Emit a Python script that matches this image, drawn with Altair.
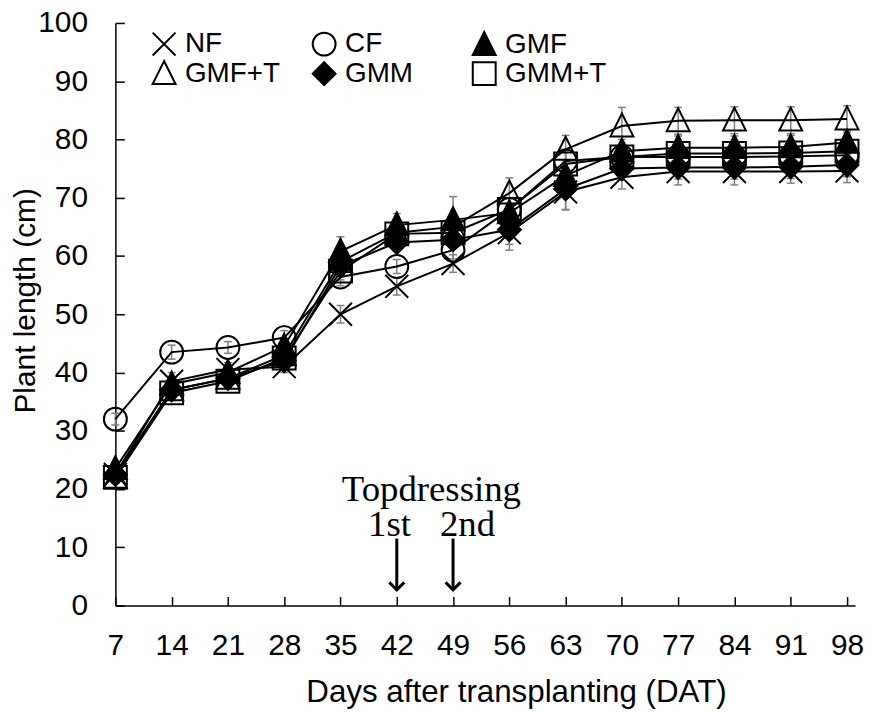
import altair as alt
import pandas as pd

# ---------------- data ----------------
days = [7, 14, 21, 28, 35, 42, 49, 56, 63, 70, 77, 84, 91, 98]
series_names = ["NF", "CF", "GMF", "GMF+T", "GMM", "GMM+T"]

nf    = [22.5, 38.5, 40.5, 41.0, 50.0, 54.8, 58.7, 64.0, 71.0, 73.5, 74.5, 74.5, 74.5, 74.6]
cf    = [32.0, 43.5, 44.3, 46.0, 56.4, 58.2, 61.0, 68.0, 76.3, 77.0, 77.0, 77.0, 77.1, 77.3]
gmf   = [23.5, 38.0, 40.0, 44.5, 60.8, 65.3, 66.2, 67.4, 73.8, 78.0, 78.6, 78.6, 78.7, 79.5]
gmf_t = [22.0, 37.0, 39.0, 43.0, 59.0, 64.0, 65.0, 70.8, 78.3, 82.3, 83.2, 83.3, 83.3, 83.5]
gmm   = [22.5, 37.0, 39.0, 42.0, 58.3, 62.3, 62.8, 64.5, 71.5, 75.0, 75.2, 75.2, 75.3, 75.6]
gmm_t = [22.0, 36.5, 38.5, 42.5, 57.4, 63.8, 64.0, 68.0, 75.8, 77.0, 77.6, 77.6, 77.7, 78.0]

nf_err    = [1.0, 1.5, 1.2, 1.0, 1.5, 1.5, 1.5, 2.0, 3.0, 2.0, 2.3, 2.3, 2.0, 2.0]
cf_err    = [1.0, 1.2, 1.0, 1.2, 1.5, 1.2, 1.5, 2.0, 2.0, 2.0, 2.0, 2.0, 2.0, 2.0]
gmf_err   = [1.0, 1.0, 1.0, 1.2, 2.5, 2.0, 4.0, 2.5, 2.5, 2.0, 2.0, 2.0, 2.0, 2.0]
gmf_t_err = [1.0, 1.0, 1.0, 1.2, 2.5, 2.0, 2.0, 2.6, 2.4, 3.2, 2.3, 2.3, 2.3, 2.3]
gmm_err   = [1.0, 1.0, 1.0, 1.2, 1.5, 1.5, 1.5, 3.5, 3.6, 2.0, 2.0, 2.0, 2.0, 2.0]
gmm_t_err = [1.0, 1.0, 1.0, 1.2, 1.5, 1.5, 1.5, 2.0, 2.0, 2.0, 2.0, 2.0, 2.0, 2.0]

y_ticks = [0, 10, 20, 30, 40, 50, 60, 70, 80, 90, 100]

# annotation
ann_text = ["Topdressing", "1st", "2nd"]
ann_day = [46.3, 41.1, 50.8]
ann_val = [18.0, 12.0, 12.0]
arrow_days = [42, 49]
arrow_top = [11.5, 11.5]
arrow_tip = [2.7, 2.7]

# ---------------- tables ----------------
all_vals = [nf, cf, gmf, gmf_t, gmm, gmm_t]
all_errs = [nf_err, cf_err, gmf_err, gmf_t_err, gmm_err, gmm_t_err]
rows = []
for name, vals, errs in zip(series_names, all_vals, all_errs):
    for d, v, e in zip(days, vals, errs):
        rows.append({"series": name, "day": d, "value": v, "lo": v - e, "hi": v + e})
df = pd.DataFrame(rows)

caps = pd.concat([
    df[["series", "day", "lo"]].rename(columns={"lo": "value"}),
    df[["series", "day", "hi"]].rename(columns={"hi": "value"}),
])
err_df = df[["series", "day", "lo", "hi"]].rename(columns={"lo": "value", "hi": "value2"})

ann_df = pd.DataFrame({"label": ann_text, "day": ann_day, "value": ann_val})
arrow_df = pd.DataFrame({"day": arrow_days, "value": arrow_top, "value2": arrow_tip})
head_df = pd.DataFrame({"day": arrow_days, "value": arrow_tip})

FONT = "Liberation Sans"

def X():
    return alt.X(
        "day:Q",
        scale=alt.Scale(domain=[7, 99.0], nice=False, zero=False),
        axis=alt.Axis(
            values=days, title="Days after transplanting (DAT)", grid=False,
            labelFont=FONT, labelFontSize=30, labelColor="black", labelAngle=0,
            labelFlush=False, labelOverlap=False, labelPadding=34,
            domainColor="black", domainWidth=1.5,
            tickColor="black", tickWidth=1.5, tickSize={"expr": "-9"},
            titleFont=FONT, titleFontSize=31.5, titleFontWeight="normal", titleColor="black",
            titleX=403, titleY=97, titleAlign="center", titleBaseline="alphabetic",
        ),
    )

def Y():
    return alt.Y(
        "value:Q",
        scale=alt.Scale(domain=[0, 100], nice=False, zero=True),
        axis=alt.Axis(
            values=y_ticks, title="Plant length (cm)", grid=False,
            labelFont=FONT, labelFontSize=30, labelColor="black",
            labelFlush=False, labelOverlap=False, labelPadding=37,
            domainColor="black", domainWidth=1.5,
            tickColor="black", tickWidth=1.5, tickSize={"expr": "-9"},
            titleFont=FONT, titleFontSize=30, titleFontWeight="normal", titleColor="black",
            titleX=-81, titleY=279, titleAngle=270, titleAlign="center",
            titleBaseline="alphabetic",
        ),
    )

shape_range = ["M-1,-1L1,1M-1,1L1,-1", "circle", "M0,-1.1L-1,0.9L1,0.9Z",
               "M0,-1.1L-1,0.9L1,0.9Z", "diamond", "square"]
fill_range = ["transparent", "transparent", "black", "transparent", "black", "transparent"]
stroke_range = ["black"] * 6

legend = alt.Legend(
    orient="none", legendX=35, legendY=7, columns=3, direction="horizontal",
    gridAlign="all", columnPadding=22, rowPadding=-3, symbolSize=530,
    symbolStrokeWidth=2, symbolStrokeColor="black", labelFontSize=28,
    labelFont=FONT, labelColor="black", labelOffset=7, padding=0, labelLimit=300,
    symbolOpacity=1,
)

err_rule = alt.Chart(err_df).mark_rule(color="#808080", strokeWidth=1.5).encode(
    x=X(), y=Y(), y2="value2:Q")
err_caps = alt.Chart(caps).mark_tick(orient="horizontal", size=8, thickness=1.5,
                                     color="#808080", opacity=1).encode(x=X(), y=Y())

lines = alt.Chart(df).mark_line(color="black", strokeWidth=2).encode(
    x=X(), y=Y(), detail="series:N", order="day:Q")

points = alt.Chart(df).mark_point(opacity=1, size=530, strokeWidth=2, filled=False).encode(
    x=X(), y=Y(),
    shape=alt.Shape("series:N", title=None,
                    scale=alt.Scale(domain=series_names, range=shape_range), legend=legend),
    fill=alt.Fill("series:N", title=None,
                  scale=alt.Scale(domain=series_names, range=fill_range), legend=legend),
    stroke=alt.Stroke("series:N", title=None,
                      scale=alt.Scale(domain=series_names, range=stroke_range), legend=legend),
)

arrows = alt.Chart(arrow_df).mark_rule(color="black", strokeWidth=3).encode(
    x=X(), y=Y(), y2="value2:Q")
heads = alt.Chart(head_df).mark_point(shape="M-1,-1L0,0L1,-1", size=225, strokeWidth=3,
                                      color="black", opacity=1, filled=False).encode(
    x=X(), y=Y())
texts = alt.Chart(ann_df).mark_text(font="Liberation Serif", fontSize=37, color="black",
                                    align="center", baseline="alphabetic").encode(
    x=X(), y=Y(), text="label:N")

chart = alt.layer(err_rule, err_caps, lines, points, arrows, heads, texts).properties(
    width=744, height=586,
    autosize=alt.AutoSizeParams(type="none"),
    padding={"left": 108, "top": 13, "right": 10, "bottom": 104},
    background="white",
).configure_view(stroke="transparent")

chart.save("out.html", embed_options={"renderer": "svg", "actions": False})
